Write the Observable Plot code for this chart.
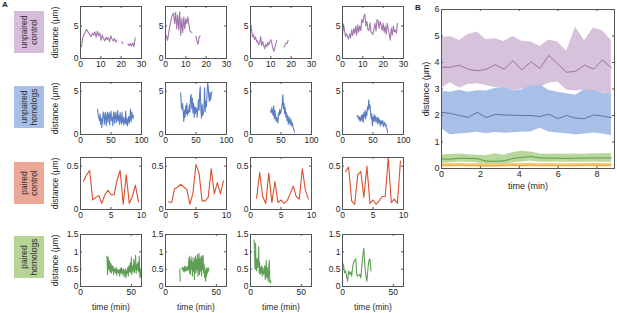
<!DOCTYPE html>
<html><head><meta charset="utf-8">
<script src="https://cdn.jsdelivr.net/npm/d3@7"></script>
<script src="https://cdn.jsdelivr.net/npm/@observablehq/plot@0.6"></script>
<style>
body{margin:0;background:#fff;}
#root{position:relative;width:617px;height:313px;overflow:hidden;font-family:Arial,"Liberation Sans",sans-serif;background:#fff;}
#root svg{position:absolute;overflow:visible;max-width:none;}
.box{position:absolute;left:14px;width:30px;height:42px;display:flex;align-items:center;justify-content:center;}
.box span{transform:rotate(-90deg);white-space:nowrap;font-size:8.5px;line-height:10px;text-align:center;color:#333;display:block;}
.letter{position:absolute;font-weight:bold;font-size:8px;color:#222;}
</style></head><body><div id="root"></div><script>
// ---------- Panel A: categories / labels ----------
const groups = ["unpaired control", "unpaired homologs", "paired control", "paired homologs"];
const boxLines = [["unpaired", "control"], ["unpaired", "homologs"], ["paired", "control"], ["paired", "homologs"]];
const boxColors = ["#d6bedb", "#a7bee6", "#eca896", "#b6d496"];
const lineColors = ["#a476ae", "#5b7ec2", "#d9502f", "#5f9f55"];
const xDomains = [[0, 30], [0, 100], [0, 10], [0, 60]];
const yDomains = [[0, 8], [0, 6], [0, 0.6], [0, 1.5]];
const xTickVals = [[0, 10, 20, 30], [0, 50, 100], [0, 5, 10], [0, 50]];
const yTickVals = [[0, 5], [0, 5], [0, 0.5], [0, 0.5, 1, 1.5]];

// ---------- Panel A: traces (sampling start, step, values) ----------
const uc1Start = 0.5, uc1Step = 0.6;
const uc1 = [1.8,3.2,3.7,4.0,4.5,4.2,3.9,3.6,3.4,3.9,3.6,4.1,3.3,4.2,3.5,3.9,2.8,3.6,3.1,2.7,3.3,2.9,3.2,2.6,3.5,3.0,2.7,3.1,2.5,2.8,null,null,null,2.6,2.3,null,null,null,2.2,2.0,2.3,1.9,2.4,1.8,3.2];
const uc2Start = 0, uc2Step = 0.5;
const uc2 = [3.7,3.4,2.8,3.8,4.8,5.6,6.3,6.8,7.0,5.4,7.1,4.6,6.7,4.4,7.2,3.6,6.2,4.0,6.4,4.6,6.1,5.4,6.4,5.2,4.3,4.1,4.0,null,null,null,3.4,2.6,2.2,3.2,3.5];
const uc3Start = 0, uc3Step = 0.5;
const uc3 = [5.0,4.5,3.3,3.7,2.9,3.3,2.6,2.7,2.1,2.4,3.4,2.0,2.6,2.0,1.5,2.2,1.8,2.5,2.1,2.6,2.9,2.3,1.6,1.1,1.7,2.3,2.8,null,null,null,null,null,null,1.8,2.0,2.4,2.3,2.8];
const uc4Start = 0, uc4Step = 0.5;
const uc4 = [3.6,5.3,4.2,3.4,3.8,3.3,3.0,3.8,3.2,4.4,3.5,4.6,3.8,5.0,3.6,5.2,4.1,5.0,4.3,6.0,5.5,6.5,6.8,5.0,5.7,4.4,4.3,5.5,4.1,3.9,3.7,4.6,5.4,4.2,6.0,5.8,4.6,5.7,5.2,4.3,5.4,4.0,5.0,3.7,5.4,4.5,3.8,2.8,4.7,3.6,5.0,4.1,4.4,3.9,5.4];

const uh1Start = 28, uh1Step = 1;
const uh1 = [2.9,2.2,2.0,1.6,2.4,1.2,1.9,0.8,1.6,2.4,2.6,1.2,2.0,2.5,1.0,1.8,2.6,1.4,2.3,2.5,1.1,2.2,2.7,1.6,2.0,1.0,2.4,2.6,1.3,2.1,2.6,1.4,1.8,2.8,1.6,2.2,1.2,2.5,1.7,1.2,2.6,1.4,2.0,1.1,1.8,1.3,2.7,1.2,1.9,1.0,1.6,2.1,1.3,1.8,2.9,1.5,2.6,2.2,1.8,2.2];
const uh2Start = 25, uh2Step = 1;
const uh2 = [4.8,3.2,2.9,3.6,2.6,1.5,2.8,2.0,3.3,2.4,3.6,2.2,2.8,2.5,3.4,2.6,4.4,4.6,3.0,4.2,2.5,3.6,2.0,3.2,2.4,3.1,2.9,2.0,3.0,4.0,2.8,4.8,5.5,2.8,1.9,3.5,2.2,2.4,3.0,5.4,2.6,3.8,3.2,4.5,5.9,5.6,4.3,3.8,4.9,4.0,4.5,4.9];
const uh3Start = 33, uh3Step = 1;
const uh3 = [2.8,2.5,3.1,2.6,2.2,3.3,1.8,2.8,2.2,1.5,2.0,1.7,1.3,2.5,2.2,2.9,2.4,2.6,3.0,3.5,4.6,3.0,3.6,2.4,3.1,2.0,2.5,1.6,2.2,1.2,2.0,1.5,1.2,1.8,1.0,1.4,1.1,0.8,0.6,0.3];
const uh4Start = 24, uh4Step = 1;
const uh4 = [2.2,2.0,2.1,1.7,2.0,1.5,1.9,2.2,1.6,2.3,1.4,2.5,2.0,2.8,1.8,2.6,2.2,3.2,2.8,4.0,3.0,3.4,2.6,1.8,2.4,1.0,2.0,1.5,2.3,1.6,2.1,1.4,1.8,2.0,1.2,1.9,1.4,1.7,1.0,1.6,1.2,1.5,1.6,0.9,1.3,1.4,1.0,1.2,0.8,0.6,0.2];

const pc1Start = 0.5, pc1Step = 0.5;
const pc1 = [0.33,0.40,0.45,0.11,0.14,0.16,0.07,0.17,0.22,0.17,0.17,0.34,0.45,0.06,0.40,0.07,0.15,0.28,0.09];
const pc2Start = 0.5, pc2Step = 0.5;
const pc2 = [0.09,0.08,0.24,0.26,0.29,0.26,0.23,0.06,0.19,0.52,0.42,0.10,0.10,0.14,0.47,0.18,0.31,0.18,0.33];
const pc3Start = 1, pc3Step = 0.5;
const pc3 = [0.13,0.43,0.15,0.07,0.42,0.08,0.32,0.08,0.11,0.07,0.10,0.18,0.27,0.15,0.12,0.47,0.22,0.12];
const pc4Start = 0.5, pc4Step = 0.5;
const pc4 = [0.44,0.49,0.10,0.06,0.40,0.44,0.14,0.50,0.07,0.11,0.06,0.10,0.15,0.15,0.60,0.08,0.12,0.07,0.56];

const ph1Start = 26, ph1Step = 0.6;
const ph1 = [0.88,0.35,0.85,0.50,0.75,0.42,0.68,0.38,0.62,0.45,0.58,0.35,0.52,0.48,0.40,0.55,0.32,0.50,0.45,0.38,0.48,0.30,0.52,0.40,0.55,0.35,0.45,0.50,0.28,0.40,0.52,0.25,0.45,0.38,0.55,0.30,0.60,0.42,0.68,0.40,0.85,0.35,0.60,0.45,0.78,0.40,0.55,0.90,0.38,0.65,0.48,0.70,0.42,0.88,0.25,0.45,0.30];
const ph2Start = 14, ph2Step = 0.5;
const ph2 = [0.50,0.15,null,0.52,null,0.55,0.48,0.45,0.55,0.42,0.60,0.45,0.55,0.50,0.45,0.58,0.48,0.55,0.82,0.40,0.88,0.35,0.75,0.50,0.85,0.30,0.70,0.45,0.82,0.20,0.65,0.88,0.40,0.78,0.50,0.92,0.30,0.60,0.95,0.35,0.80,0.45,0.88,0.30,0.85,0.50,0.90,0.40,0.65,0.25,0.45,0.15,0.55,0.30,0.50,0.40,0.55,0.45];
const ph3Start = 3.5, ph3Step = 0.5;
const ph3 = [1.35,0.90,0.50,1.25,0.55,0.45,0.80,0.55,0.62,1.15,0.40,0.70,0.35,0.55,0.40,0.60,0.30,0.55,0.42,0.35,0.45,0.60,0.20,0.40,0.75,0.25,0.55,0.35,0.15,0.55,0.75,0.12,0.18,0.10];
const ph4Start = 0, ph4Step = 1;
const ph4 = [0.68,0.62,0.40,0.45,0.30,0.15,0.45,0.35,0.42,0.30,0.58,0.70,0.75,0.80,0.35,0.30,0.32,0.35,0.25,0.60,0.90,1.10,0.60,0.30,0.15,0.50,0.75,0.80,0.45];

const traces = [
  [[uc1, uc1Start, uc1Step], [uc2, uc2Start, uc2Step], [uc3, uc3Start, uc3Step], [uc4, uc4Start, uc4Step]],
  [[uh1, uh1Start, uh1Step], [uh2, uh2Start, uh2Step], [uh3, uh3Start, uh3Step], [uh4, uh4Start, uh4Step]],
  [[pc1, pc1Start, pc1Step], [pc2, pc2Start, pc2Step], [pc3, pc3Start, pc3Step], [pc4, pc4Start, pc4Step]],
  [[ph1, ph1Start, ph1Step], [ph2, ph2Start, ph2Step], [ph3, ph3Start, ph3Step], [ph4, ph4Start, ph4Step]]
];

// ---------- Panel B: mean ± spread over time ----------
const bTime = [0,0.46,0.92,1.38,1.84,2.3,2.76,3.22,3.68,4.14,4.6,5.06,5.52,5.98,6.44,6.9,7.36,7.82,8.28,8.74];
const purpleMean = [3.82,3.82,3.9,3.74,3.69,3.74,3.92,3.75,4.07,3.72,4.03,3.78,4.27,3.95,3.63,3.67,3.9,3.75,4.1,3.8];
const purpleLo = [3.04,3.24,3.04,3.17,3.2,3.13,3.05,3.04,2.92,3.0,2.96,3.05,3.22,3.26,2.96,2.92,2.96,2.85,2.87,2.81];
const purpleHi = [4.93,4.98,4.83,5.06,5.15,4.86,4.9,4.79,4.98,4.8,4.77,4.6,4.85,4.77,4.43,5.33,4.82,5.3,5.2,4.83];
const blueMean = [2.12,2.08,2.0,1.93,2.12,1.92,2.04,2.02,2.01,2.0,2.0,1.96,2.05,1.88,2.0,1.9,1.88,2.02,1.98,1.92];
const blueLo = [1.5,1.27,1.3,1.33,1.37,1.31,1.36,1.33,1.35,1.37,1.38,1.52,1.38,1.34,1.31,1.26,1.3,1.34,1.3,1.25];
const blueHi = [2.92,2.88,2.95,2.88,2.93,2.92,3.02,3.06,2.92,2.97,3.12,3.16,2.95,2.88,2.82,2.76,2.98,2.94,2.85,2.84];
const greenMean = [0.36,0.35,0.39,0.38,0.37,0.28,0.27,0.29,0.38,0.42,0.45,0.40,0.39,0.39,0.38,0.39,0.39,0.40,0.40,0.40];
const greenLo = [0.2,0.22,0.25,0.24,0.22,0.14,0.12,0.14,0.22,0.25,0.28,0.24,0.24,0.25,0.24,0.24,0.24,0.25,0.24,0.24];
const greenHi = [0.52,0.53,0.55,0.52,0.50,0.48,0.56,0.50,0.60,0.65,0.62,0.55,0.54,0.55,0.54,0.55,0.54,0.56,0.56,0.57];
const orangeMean = [0.12,0.12,0.13,0.12,0.12,0.11,0.11,0.12,0.13,0.12,0.13,0.12,0.12,0.12,0.12,0.12,0.13,0.13,0.12,0.13];
const orangeLo = [0.06,0.06,0.07,0.06,0.06,0.05,0.05,0.06,0.07,0.06,0.07,0.06,0.06,0.06,0.06,0.06,0.07,0.07,0.06,0.07];
const orangeHi = [0.19,0.19,0.2,0.18,0.19,0.17,0.17,0.18,0.2,0.19,0.2,0.18,0.19,0.18,0.18,0.19,0.19,0.2,0.19,0.2];
const bXTicks = [0, 2, 4, 6, 8];
const bYTicks = [0, 1, 2, 3, 4, 5, 6];
const bBands = [
  {name: "unpaired control", mean: purpleMean, lo: purpleLo, hi: purpleHi, fill: "#d7c2dc", stroke: "#9c70a5"},
  {name: "unpaired homologs", mean: blueMean, lo: blueLo, hi: blueHi, fill: "#a8c0e8", stroke: "#5c74a8"},
  {name: "paired homologs", mean: greenMean, lo: greenLo, hi: greenHi, fill: "#b8d79c", stroke: "#5f9a50"},
  {name: "paired control", mean: orangeMean, lo: orangeLo, hi: orangeHi, fill: "#f6cd80", stroke: "#eaa63c"}
];

// ---------- layout ----------
const root = document.getElementById("root");
const colLeft = [80, 165, 250, 342];
const rowTop = [6, 82, 157, 234];
const boxTop = [11, 86, 162, 236];
const FW = 61, FH = 52;
const ML = 34, MR = 4, MT = 4, MB = 30;
const axisColor = "#555";
const fontFam = "Arial, 'Liberation Sans', Helvetica, sans-serif";

function place(el, left, top) {
  el.style.left = left + "px";
  el.style.top = top + "px";
  root.appendChild(el);
}

function smallPlot(r, c) {
  const [vals, start, step] = traces[r][c];
  const data = vals.map((v, i) => ({t: start + i * step, v: v == null ? NaN : v}));
  const xd = xDomains[r], yd = yDomains[r];
  const tx = (xd[1] - xd[0]) * 2 / FW, ty = (yd[1] - yd[0]) * 2 / FH;
  return Plot.plot({
    width: FW + ML + MR, height: FH + MT + MB,
    marginLeft: ML, marginRight: MR, marginTop: MT, marginBottom: MB,
    x: {domain: xd}, y: {domain: yd},
    style: {fontFamily: fontFam, fontSize: "8.5px", color: "#262626", background: "none", overflow: "visible"},
    marks: [
      Plot.line(data, {x: "t", y: "v", stroke: lineColors[r], strokeWidth: 1.1, clip: true}),
      Plot.ruleX(xTickVals[r], {y1: yd[0], y2: yd[0] + ty, stroke: axisColor}),
      Plot.ruleX(xTickVals[r], {y1: yd[1] - ty, y2: yd[1], stroke: axisColor}),
      Plot.ruleY(yTickVals[r], {x1: xd[0], x2: xd[0] + tx, stroke: axisColor}),
      Plot.ruleY(yTickVals[r], {x1: xd[1] - tx, x2: xd[1], stroke: axisColor}),
      Plot.frame({stroke: axisColor}),
      Plot.axisX({ticks: xTickVals[r], tickSize: 0, tickPadding: 2, tickFormat: d => String(d),
        label: r === 3 ? "time (min)" : null, labelAnchor: "center", labelOffset: 23, labelArrow: "none", fontSize: 8.5}),
      Plot.axisY({ticks: yTickVals[r], tickSize: 0, tickPadding: 2, tickFormat: d => String(d),
        label: c === 0 ? "distance (μm)" : null, labelAnchor: "center", labelOffset: 29, labelArrow: "none", fontSize: 8.5})
    ]
  });
}

// letters
const la = document.createElement("div"); la.className = "letter"; la.textContent = "A"; place(la, 2, 0);
const lb = document.createElement("div"); lb.className = "letter"; lb.textContent = "B"; place(lb, 415, 3);

for (let r = 0; r < 4; r++) {
  const box = document.createElement("div");
  box.className = "box";
  box.style.background = boxColors[r];
  box.title = groups[r];
  const sp = document.createElement("span");
  sp.innerHTML = boxLines[r].join("<br>");
  box.appendChild(sp);
  place(box, 14, boxTop[r]);
  for (let c = 0; c < 4; c++) {
    place(smallPlot(r, c), colLeft[c] - ML, rowTop[r] - MT);
  }
}

// Panel B
const BL = 441, BT = 9, BW = 173, BH = 159;
const bML = 30, bMR = 3, bMT = 6, bMB = 30;
const bMarks = [];
for (const b of bBands) {
  const d = bTime.map((t, i) => ({t, lo: b.lo[i], hi: b.hi[i], m: b.mean[i]}));
  bMarks.push(Plot.areaY(d, {x: "t", y1: "lo", y2: "hi", fill: b.fill}));
}
for (const b of bBands) {
  const d = bTime.map((t, i) => ({t, m: b.mean[i]}));
  bMarks.push(Plot.line(d, {x: "t", y: "m", stroke: b.stroke, strokeWidth: 1}));
}
const bxd = [0, 8.9], byd = [0, 6];
const btx = 8.9 * 2 / BW, bty = 6 * 2 / BH;
const plotB = Plot.plot({
  width: BW + bML + bMR, height: BH + bMT + bMB,
  marginLeft: bML, marginRight: bMR, marginTop: bMT, marginBottom: bMB,
  x: {domain: bxd}, y: {domain: byd},
  style: {fontFamily: fontFam, fontSize: "9px", color: "#262626", background: "none", overflow: "visible"},
  marks: [
    ...bMarks,
    Plot.ruleX(bXTicks, {y1: 0, y2: bty, stroke: axisColor}),
    Plot.ruleX(bXTicks, {y1: 6 - bty, y2: 6, stroke: axisColor}),
    Plot.ruleY(bYTicks, {x1: 0, x2: btx, stroke: axisColor}),
    Plot.ruleY(bYTicks, {x1: 8.9 - btx, x2: 8.9, stroke: axisColor}),
    Plot.frame({stroke: axisColor}),
    Plot.axisX({ticks: bXTicks, tickSize: 0, tickPadding: 2, tickFormat: d => String(d),
      label: "time (min)", labelAnchor: "center", labelOffset: 20, labelArrow: "none", fontSize: 9}),
    Plot.axisY({ticks: bYTicks, tickSize: 0, tickPadding: 2, tickFormat: d => String(d),
      label: "distance (μm)", labelAnchor: "center", labelOffset: 19, labelArrow: "none", fontSize: 9})
  ]
});
place(plotB, BL - bML, BT - bMT);
</script></body></html>
